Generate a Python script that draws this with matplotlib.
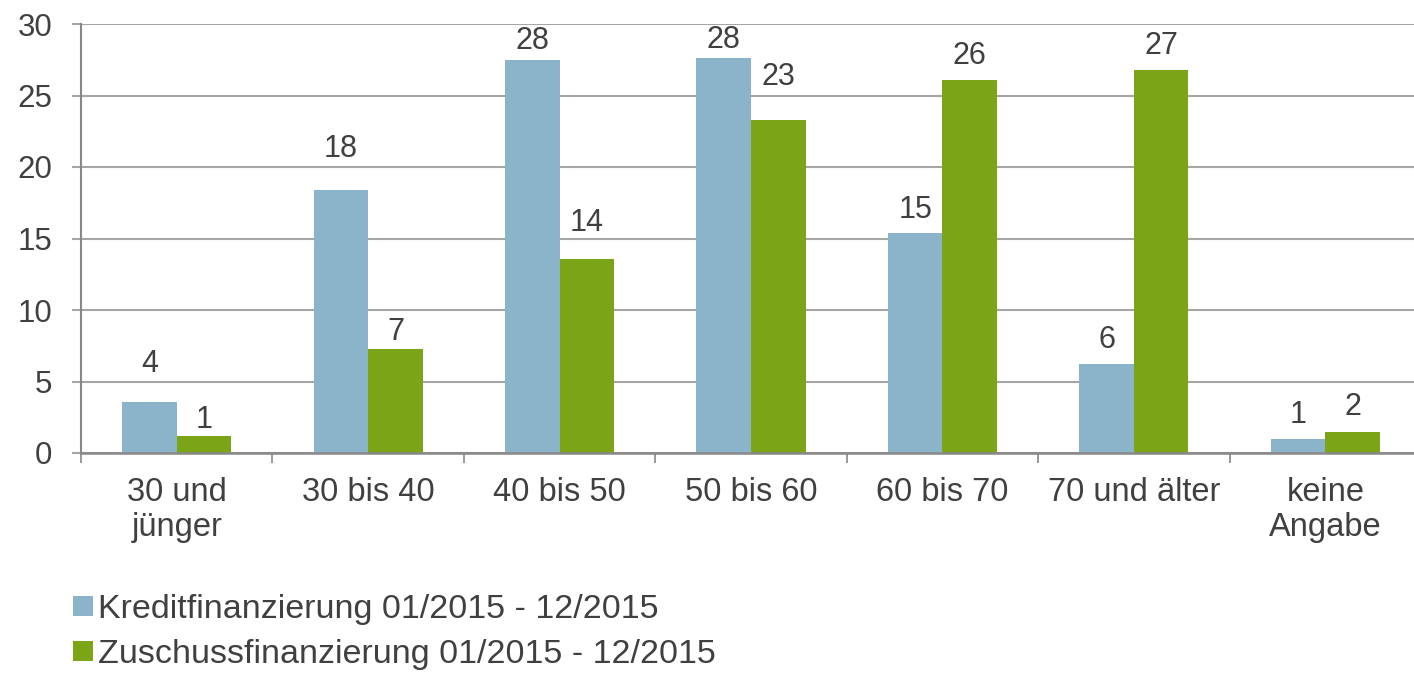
import matplotlib
matplotlib.use("Agg")
import matplotlib.pyplot as plt
import numpy as np

plt.rcParams['font.family'] = ['Liberation Sans', 'DejaVu Sans']

categories = ["30 und\njünger", "30 bis 40", "40 bis 50", "50 bis 60",
              "60 bis 70", "70 und älter", "keine\nAngabe"]
kredit = [3.6, 18.4, 27.5, 27.6, 15.4, 6.2, 1.0]
zuschuss = [1.2, 7.3, 13.6, 23.3, 26.1, 26.8, 1.5]
kredit_labels = ["4", "18", "28", "28", "15", "6", "1"]
zuschuss_labels = ["1", "7", "14", "23", "26", "27", "2"]
series_names = ["Kreditfinanzierung 01/2015 - 12/2015",
                "Zuschussfinanzierung 01/2015 - 12/2015"]

# gap (points) between bar top and label baseline, the labels in the original are hand placed
kredit_gap = [21.5, 23.5, 8, 7.5, 11, 12, 11.5]
zuschuss_gap = [6, 6, 19.5, 25, 11.5, 11.5, 12]

BLUE = "#8bb4cb"
GREEN = "#7ba416"
TEXT = "#404040"
GRID = "#a6a6a6"

fig = plt.figure(figsize=(14.14, 6.75), dpi=100)
ax = fig.add_axes([81 / 1414, 1 - 453 / 675, 1340 / 1414, 429 / 675])

x = np.arange(len(categories))
w = 0.285
b1 = ax.bar(x - w / 2, kredit, w, color=BLUE, label=series_names[0], zorder=3)
b2 = ax.bar(x + w / 2, zuschuss, w, color=GREEN, label=series_names[1], zorder=3)

for bars, labels, gaps in ((b1, kredit_labels, kredit_gap), (b2, zuschuss_labels, zuschuss_gap)):
    for rect, lab, g in zip(bars, labels, gaps):
        ax.annotate(lab, (rect.get_x() + rect.get_width() / 2, rect.get_height()),
                    xytext=(0, g), textcoords="offset points",
                    ha="center", va="baseline", fontsize=22, color=TEXT)

ax.set_xlim(-0.5, len(categories) - 0.5)
ax.set_ylim(0, 30)
ax.set_yticks(range(0, 31, 5))
ax.yaxis.grid(True, color=GRID, linewidth=1.5, zorder=0)

ax.set_xticks(x)
ax.set_xticklabels(categories, fontsize=23.5, color=TEXT, linespacing=1.2)
ax.set_xticks(np.arange(-0.5, len(categories)), minor=True)
ax.tick_params(axis="x", which="major", length=0, pad=17)
ax.tick_params(axis="x", which="minor", length=7, width=1.2, color="#888888")
ax.tick_params(axis="y", length=6.5, width=1.5, color=GRID, labelsize=22.5,
               labelcolor=TEXT, pad=14)

for side in ("top", "right"):
    ax.spines[side].set_visible(False)
ax.spines["left"].set_color("#888888")
ax.spines["left"].set_linewidth(1.5)
ax.spines["bottom"].set_color("#888888")
ax.spines["bottom"].set_linewidth(1.8)
ax.spines["bottom"].set_zorder(4)

fig.legend(handles=[b1, b2], loc="upper left", bbox_to_anchor=(73 / 1414, 1 - 594 / 675),
           frameon=False, fontsize=24.5, labelcolor=TEXT,
           handlelength=0.58, handleheight=0.53, handletextpad=0.15,
           labelspacing=0.42, borderpad=0, borderaxespad=0)

fig.savefig("out.png", dpi=100)
